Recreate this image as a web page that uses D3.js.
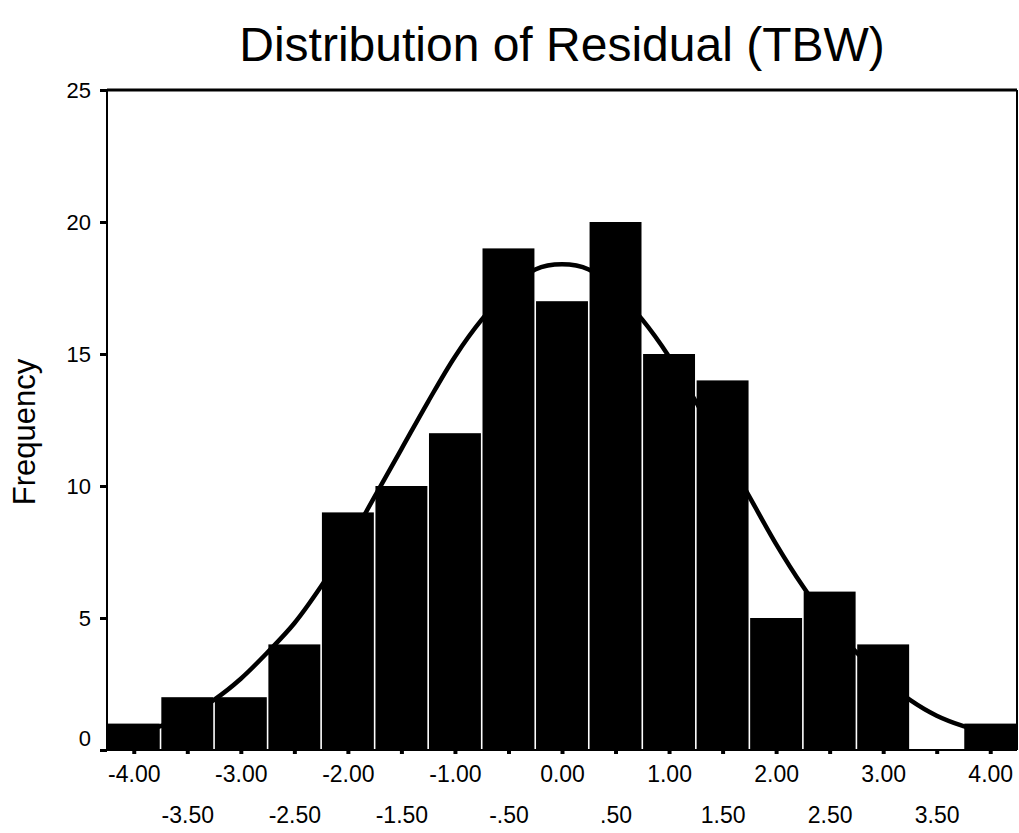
<!DOCTYPE html>
<html>
<head>
<meta charset="utf-8">
<script src="https://cdn.jsdelivr.net/npm/d3@7"></script>
<style>
  body { margin: 0; background: #fff; }
  text { font-family: "Liberation Sans", Arial, sans-serif; fill: #000; }
</style>
</head>
<body>
<div id="chart"></div>
<script>
//===============================
//  1.  Data
//===============================

// bin centres (width .50) and counts
var binCenters = [-4.0, -3.5, -3.0, -2.5, -2.0, -1.5, -1.0, -0.5, 0.0, 0.5, 1.0, 1.5, 2.0, 2.5, 3.0, 3.5, 4.0];
var counts     = [1, 2, 2, 4, 9, 10, 12, 19, 17, 20, 15, 14, 5, 6, 4, 0, 1];

// normal curve
var curveX = [-4.25, -4.0, -3.75, -3.5, -3.25, -3.0, -2.75, -2.5, -2.25, -2.0, -1.75, -1.5, -1.25, -1.0, -0.75, -0.5, -0.25,
              0.0, 0.25, 0.5, 0.75, 1.0, 1.25, 1.5, 1.75, 2.0, 2.25, 2.5, 2.75, 3.0, 3.25, 3.5, 3.75, 4.0, 4.25];
var curveY = [0.4, 0.6, 0.9, 1.3, 1.9, 2.7, 3.7, 4.8, 6.2, 7.8, 9.6, 11.4, 13.2, 14.9, 16.3, 17.4, 18.2,
              18.4, 18.2, 17.4, 16.3, 14.9, 13.2, 11.4, 9.6, 7.8, 6.2, 4.8, 3.7, 2.7, 1.9, 1.3, 0.9, 0.6, 0.4];

// tick labels
var yTicks = [0, 5, 10, 15, 20, 25];
var xLabels = ["-4.00", "-3.50", "-3.00", "-2.50", "-2.00", "-1.50", "-1.00", "-.50", "0.00",
               ".50", "1.00", "1.50", "2.00", "2.50", "3.00", "3.50", "4.00"];

//===============================
//  2.  Set up chart area
//===============================

var svgWidth = 1019;
var svgHeight = 833;

var margin = { top: 90, right: 2, bottom: 83, left: 107 };
var chartWidth = svgWidth - margin.left - margin.right;
var chartHeight = svgHeight - margin.top - margin.bottom;
var binWidth = 0.5;

var svg = d3.select("#chart")
  .append("svg")
  .attr("width", svgWidth)
  .attr("height", svgHeight);

var chartGroup = svg.append("g")
  .attr("transform", `translate(${margin.left}, ${margin.top})`);

// scales
var xScale = d3.scaleLinear()
  .domain([-4.25, 4.25])
  .range([0, chartWidth]);

var yScale = d3.scaleLinear()
  .domain([0, 25])
  .range([chartHeight, 0]);

//===============================
//  3.  Curve and bars
//===============================

var line = d3.line()
  .x((d, i) => xScale(curveX[i]))
  .y(d => yScale(d))
  .curve(d3.curveCatmullRom);

chartGroup.append("path")
  .datum(curveY)
  .attr("d", line)
  .attr("fill", "none")
  .attr("stroke", "#000")
  .attr("stroke-width", 4.5);

var barPx = xScale(binWidth) - xScale(0);

chartGroup.selectAll(".bar")
  .data(counts)
  .enter()
  .append("rect")
  .attr("class", "bar")
  .attr("x", (d, i) => xScale(binCenters[i] - binWidth / 2) + 0.8)
  .attr("width", barPx - 1.6)
  .attr("y", d => yScale(d))
  .attr("height", d => chartHeight - yScale(d))
  .attr("fill", "#000");

//===============================
//  4.  Axes and frame
//===============================

// frame: top and right
chartGroup.append("line")
  .attr("x1", 0).attr("x2", chartWidth)
  .attr("y1", 0).attr("y2", 0)
  .attr("stroke", "#000").attr("stroke-width", 3);

chartGroup.append("line")
  .attr("x1", chartWidth).attr("x2", chartWidth)
  .attr("y1", 0).attr("y2", chartHeight)
  .attr("stroke", "#000").attr("stroke-width", 2);

// y axis
var yAxis = d3.axisLeft(yScale)
  .tickValues(yTicks)
  .tickSize(7)
  .tickPadding(9)
  .tickFormat(d3.format("d"));

var yAxisG = chartGroup.append("g").call(yAxis);
yAxisG.select(".domain").attr("stroke-width", 2).attr("d", `M0,0V${chartHeight}`);
yAxisG.selectAll(".tick line").attr("stroke-width", 3);
yAxisG.selectAll(".tick text")
  .style("font-size", "22px")
  .attr("dy", d => d === 0 ? "-0.22em" : "0.36em");

// x axis, labels on two alternating rows
var xAxis = d3.axisBottom(xScale)
  .tickValues(binCenters)
  .tickSize(4)
  .tickFormat((d, i) => xLabels[i]);

var xAxisG = chartGroup.append("g")
  .attr("transform", `translate(0, ${chartHeight})`)
  .call(xAxis);
xAxisG.select(".domain").attr("stroke-width", 2).attr("d", `M0,0H${chartWidth}`);
xAxisG.selectAll(".tick line").attr("stroke-width", 4).attr("y1", 1);
xAxisG.selectAll(".tick text")
  .style("font-size", "23px")
  .attr("y", (d, i) => i % 2 === 0 ? 32 : 73)
  .attr("dy", 0);

// y axis title
chartGroup.append("text")
  .attr("transform", "rotate(-90)")
  .attr("x", -(chartHeight / 2) - 12)
  .attr("y", -margin.left + 35)
  .attr("text-anchor", "middle")
  .style("font-size", "31px")
  .text("Frequency");

// chart title
svg.append("text")
  .attr("x", margin.left + chartWidth / 2)
  .attr("y", 61)
  .attr("text-anchor", "middle")
  .style("font-size", "48px")
  .text("Distribution of Residual (TBW)");
</script>
</body>
</html>
